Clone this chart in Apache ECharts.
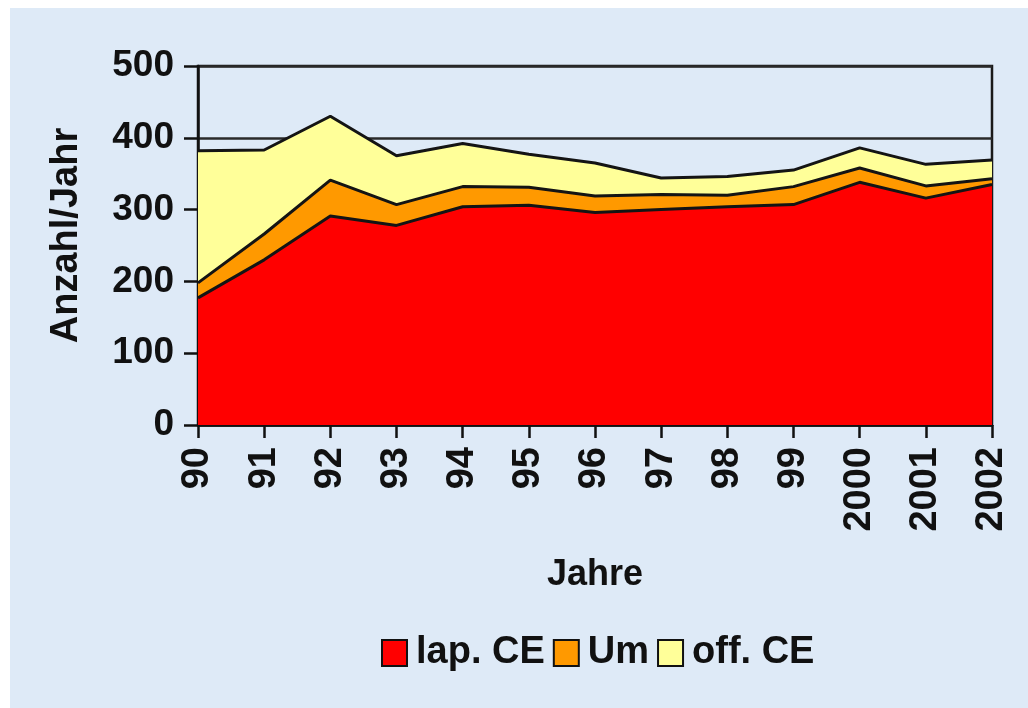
<!DOCTYPE html>
<html>
<head>
<meta charset="utf-8">
<script src="https://cdn.jsdelivr.net/npm/echarts@6/dist/echarts.min.js"></script>
<style>
html,body{margin:0;padding:0;background:#ffffff;width:1028px;height:708px;overflow:hidden;}
#c{position:absolute;left:10px;top:8px;width:1018px;height:700px;}
</style>
</head>
<body>
<div id="c"></div>
<script>
var years = ['90','91','92','93','94','95','96','97','98','99','2000','2001','2002'];
var lapCE = [177, 230, 291, 278, 304, 306, 296, 300, 304, 307, 338, 316, 335];
var um    = [21, 36, 50, 29, 28, 25, 23, 21, 16, 25, 20, 17, 8];
var offCE = [184, 117, 89, 68, 60, 46, 46, 23, 26, 23, 28, 30, 26];
var seriesNames = ['lap. CE', 'Um', 'off. CE'];
var yTicks = [0, 100, 200, 300, 400, 500];

var FONT = '"Liberation Sans", Arial, sans-serif';
var TXT = '#111111';
var colors = ['#ff0000', '#ff9900', '#ffff99'];

var chart = echarts.init(document.getElementById('c'));

function mk(name, data, color) {
  return {
    name: name,
    type: 'line',
    stack: 'total',
    data: data,
    symbol: 'none',
    lineStyle: { color: '#141414', width: 3 },
    itemStyle: { color: color, borderColor: '#111', borderWidth: 2 },
    areaStyle: { color: color, opacity: 1 },
    z: 2
  };
}

chart.setOption({
  backgroundColor: '#deeaf7',
  animation: false,
  textStyle: { fontFamily: FONT },
  grid: {
    left: 188, right: 36, top: 58, bottom: 283,
    show: true, borderColor: '#1a1a1a', borderWidth: 2.5, backgroundColor: 'transparent'
  },
  legend: {
    data: seriesNames,
    left: 366, top: 621,
    icon: 'rect',
    itemWidth: 25, itemHeight: 26,
    itemGap: 8,
    textStyle: { fontFamily: FONT, fontSize: 38, fontWeight: 'bold', color: TXT, padding: [0, 0, 0, 4] },
    itemStyle: { borderColor: '#111', borderWidth: 2 }
  },
  xAxis: {
    type: 'category',
    data: years,
    boundaryGap: false,
    name: 'Jahre',
    nameLocation: 'middle',
    nameGap: 132,
    nameTextStyle: { fontFamily: FONT, fontSize: 36, fontWeight: 'bold', color: TXT },
    axisLine: { show: true, lineStyle: { color: '#111', width: 2.5 } },
    axisTick: { show: true, alignWithLabel: true, length: 13, lineStyle: { color: '#111', width: 2.5 } },
    axisLabel: { rotate: 90, margin: 22, fontFamily: FONT, fontSize: 38, fontWeight: 'bold', color: TXT, interval: 0 },
    splitLine: { show: false }
  },
  yAxis: {
    type: 'value',
    min: yTicks[0], max: yTicks[yTicks.length - 1], interval: 100,
    name: 'Anzahl/Jahr',
    nameLocation: 'middle',
    nameRotate: 90,
    nameGap: 112,
    nameTextStyle: { fontFamily: FONT, fontSize: 38, fontWeight: 'bold', color: TXT, padding: [0, 0, 0, 20] },
    axisLine: { show: true, lineStyle: { color: '#111', width: 2.5 } },
    axisTick: { show: true, inside: false, length: 14, lineStyle: { color: '#111', width: 2.5 } },
    axisLabel: { margin: 24, fontFamily: FONT, fontSize: 37, fontWeight: 'bold', color: TXT },
    splitLine: { show: true, lineStyle: { color: '#2a2a2a', width: 2.5 } }
  },
  series: [
    mk(seriesNames[0], lapCE, colors[0]),
    mk(seriesNames[1], um, colors[1]),
    mk(seriesNames[2], offCE, colors[2])
  ]
});
</script>
</body>
</html>
